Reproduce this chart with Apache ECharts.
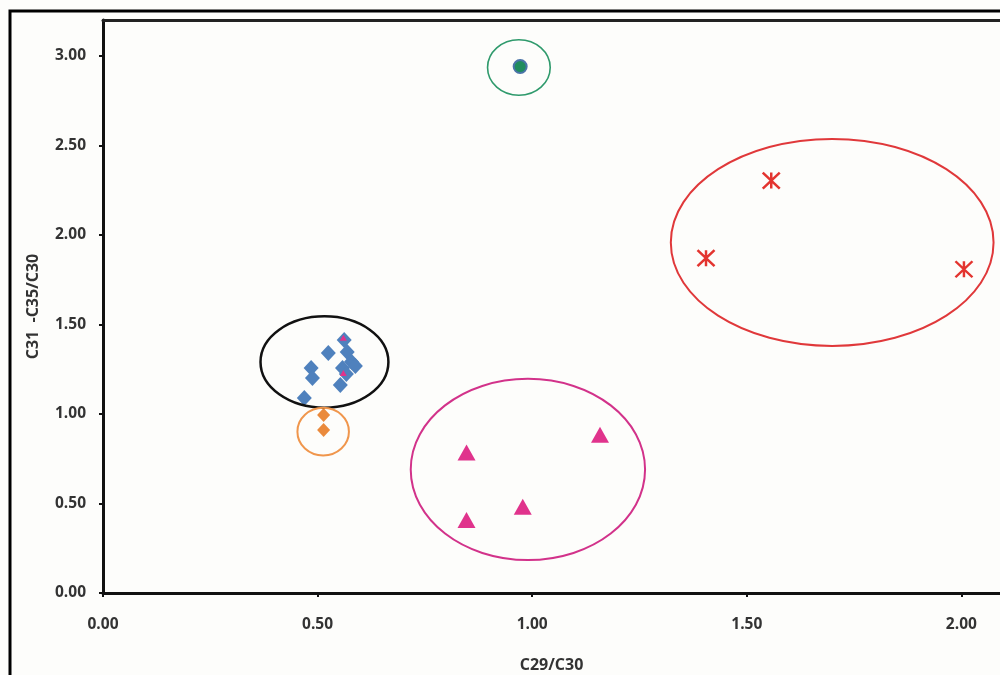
<!DOCTYPE html>
<html>
<head>
<meta charset="utf-8">
<script src="https://cdn.jsdelivr.net/npm/echarts@6/dist/echarts.min.js"></script>
<style>
  html, body { margin: 0; padding: 0; background: #fdfdfb; }
  #chart { width: 1000px; height: 675px; }
</style>
</head>
<body>
<div id="chart"></div>
<script>
// Axis settings
const xTicks = [0, 0.5, 1.0, 1.5, 2.0];
const yTicks = [0, 0.5, 1.0, 1.5, 2.0, 2.5, 3.0];

// Sample groups: [C29/C30, C31-C35/C30]
const blueGroup = [
  [0.562, 1.413], [0.525, 1.341], [0.569, 1.346], [0.579, 1.291],
  [0.588, 1.268], [0.558, 1.257], [0.567, 1.223], [0.553, 1.162],
  [0.485, 1.257], [0.488, 1.201], [0.469, 1.089]
];
const magentaSmall = [[0.560, 1.425], [0.560, 1.229]];
const orangeGroup = [[0.514, 0.994], [0.514, 0.910]];
const greenGroup = [[0.972, 2.940]];
const redGroup = [[1.557, 2.303], [1.405, 1.870], [2.006, 1.808]];
const pinkGroup = [[0.847, 0.784], [0.847, 0.408], [0.978, 0.482], [1.158, 0.884]];

// Grouping ellipses: [centre x, centre y, radius x, radius y]
const greenRing = [0.969, 2.935, 0.073, 0.155];
const redRing = [1.699, 1.958, 0.376, 0.578];
const pinkRing = [0.990, 0.690, 0.273, 0.506];
const blackRing = [0.516, 1.290, 0.149, 0.255];
const orangeRing = [0.513, 0.901, 0.060, 0.133];

const ringList = [
  { ring: greenRing, color: '#2f9a6c', width: 1.6 },
  { ring: redRing, color: '#e0383a', width: 2 },
  { ring: pinkRing, color: '#d2328a', width: 2 },
  { ring: blackRing, color: '#111111', width: 2.5 },
  { ring: orangeRing, color: '#f0964c', width: 2 }
];

const labelFont = { fontFamily: 'Open Sans', fontWeight: 'bold', fontSize: 15.5, color: '#333333' };

const chart = echarts.init(document.getElementById('chart'), null, { renderer: 'canvas' });

chart.setOption({
  backgroundColor: '#fdfdfb',
  animation: false,
  graphic: [{
    type: 'rect',
    shape: { x: 10, y: 11, width: 1010, height: 700 },
    style: { fill: 'none', stroke: '#000000', lineWidth: 3 },
    z: 0
  }],
  grid: { left: 103, top: 20, right: 0, bottom: 82, show: false, containLabel: false, outerBoundsMode: 'none' },
  xAxis: [{
    type: 'value',
    min: 0, max: 2.09,
    name: 'C29/C30',
    nameLocation: 'middle',
    nameGap: 64,
    nameTextStyle: Object.assign({}, labelFont, { fontSize: 16 }),
    axisLine: { show: true, lineStyle: { color: '#111111', width: 3 } },
    axisTick: { show: true, length: 4, lineStyle: { color: '#111111', width: 2 }, customValues: xTicks },
    axisLabel: Object.assign({}, labelFont, {
      margin: 24,
      customValues: xTicks,
      formatter: v => v.toFixed(2)
    }),
    splitLine: { show: false }
  }, {
    type: 'value',
    position: 'top',
    min: 0, max: 2.09,
    axisLine: { show: true, lineStyle: { color: '#222222', width: 3 } },
    axisTick: { show: false },
    axisLabel: { show: false },
    splitLine: { show: false }
  }],
  yAxis: {
    type: 'value',
    min: 0, max: 3.2,
    name: 'C31  -C35/C30',
    nameLocation: 'middle',
    nameGap: 62,
    nameRotate: 90,
    nameTextStyle: Object.assign({}, labelFont, { fontSize: 16 }),
    axisLine: { show: true, lineStyle: { color: '#111111', width: 3 } },
    axisTick: { show: true, length: 4, lineStyle: { color: '#111111', width: 2 }, customValues: yTicks },
    axisLabel: Object.assign({}, labelFont, {
      margin: 17,
      customValues: yTicks,
      formatter: v => v.toFixed(2)
    }),
    splitLine: { show: false }
  },
  series: [
    {
      type: 'scatter',
      data: blueGroup,
      symbol: 'diamond',
      symbolSize: [15, 16],
      itemStyle: { color: '#4f81bd', opacity: 1 },
      z: 2
    },
    {
      type: 'scatter',
      data: magentaSmall,
      symbol: 'triangle',
      symbolSize: [7, 6],
      itemStyle: { color: '#e0338c', opacity: 1 },
      z: 3
    },
    {
      type: 'scatter',
      data: orangeGroup,
      symbol: 'diamond',
      symbolSize: [13, 14],
      itemStyle: { color: '#ea8a3c', opacity: 1 },
      z: 2
    },
    {
      type: 'scatter',
      data: greenGroup,
      symbol: 'circle',
      symbolSize: 13,
      itemStyle: { color: '#1f8c5e', borderColor: '#4a74a8', borderWidth: 2, opacity: 1 },
      z: 2
    },
    {
      type: 'scatter',
      data: redGroup,
      symbol: 'path://M0,0L16,14M16,0L0,14M8,0L8,14',
      symbolSize: [17, 16],
      itemStyle: { color: 'none', borderColor: '#e3342f', borderWidth: 2.4, opacity: 1 },
      z: 2
    },
    {
      type: 'scatter',
      data: pinkGroup,
      symbol: 'triangle',
      symbolSize: [18, 16],
      itemStyle: { color: '#e0338c', opacity: 1 },
      z: 2
    },
    {
      type: 'custom',
      data: ringList.map(r => r.ring),
      clip: false,
      z: 4,
      renderItem: function (params, api) {
        const item = ringList[params.dataIndex];
        const c = api.coord([api.value(0), api.value(1)]);
        const s = api.size([api.value(2), api.value(3)]);
        return {
          type: 'ellipse',
          shape: { cx: c[0], cy: c[1], rx: s[0], ry: s[1] },
          style: { fill: 'none', stroke: item.color, lineWidth: item.width }
        };
      }
    }
  ]
});
</script>
</body>
</html>
